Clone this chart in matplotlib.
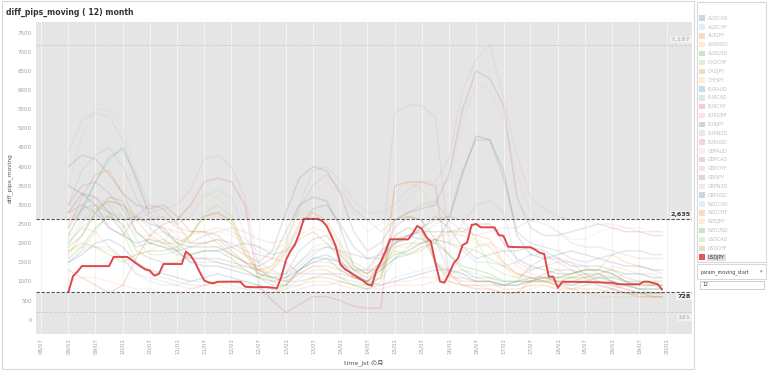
import numpy as np
import pandas as pd
import matplotlib
matplotlib.use("Agg")
import matplotlib.pyplot as plt
import matplotlib.dates as mdates
from matplotlib.patches import Rectangle
import matplotlib.transforms as mtransforms

plt.rcParams['font.family'] = ['DejaVu Sans', 'Noto Sans CJK JP']

# pares de divisas (orden de la leyenda)
pares = ["AUDCAD", "AUDCHF", "AUDJPY", "AUDNZD", "AUDUSD", "CADCHF", "CADJPY", "CHFJPY",
         "EURAUD", "EURCAD", "EURCHF", "EURGBP", "EURJPY", "EURNZD", "EURUSD", "GBPAUD",
         "GBPCAD", "GBPCHF", "GBPJPY", "GBPNZD", "GBPUSD", "NZDCAD", "NZDCHF", "NZDJPY",
         "NZDUSD", "USDCAD", "USDCHF", "USDJPY"]
colores = ["#4e79a7", "#a0cbe8", "#f28e2b", "#ffbe7d", "#59a14f", "#8cd17d", "#b6992d", "#f1ce63",
           "#499894", "#86bcb6", "#e15759", "#ff9d9a", "#79706e", "#bab0ac", "#d37295", "#fabfd2",
           "#b07aa1", "#d4a6c8", "#9d7660", "#d7b5a6", "#4e79a7", "#a0cbe8", "#f28e2b", "#ffbe7d",
           "#59a14f", "#8cd17d", "#b6992d", "#e15759"]

# fechas trimestrales (2009/01 .. 2019/10) + 2019/12
fechas_trim = list(pd.date_range("2009-01-01", "2019-10-01", freq="QS-JAN")) + [pd.Timestamp("2019-12-01")]

# valores aproximados (trimestrales) de los pares atenuados
AUDCAD = [1500,1700,2000,2100, 1900,1500,1300,1200, 1100,1000,1100,1200, 1100,1000,900,800, 900,1300,1600,1700, 1500,1200,1000,900, 1000,1100,1200,1300, 1300,1200,1000,1000, 900,1000,1100,1100, 1000,900,1000,1100, 1000,900,800,800, 800]
AUDCHF = [2200,2800,3600,4300, 4400,3800,3000,2600, 2500,2700,3200,3400, 3200,2200,1500,1300, 1100,1500,1900,2000, 1700,1300,1000,1200, 2500,2600,2400,1500, 1300,1200,1100,1000, 900,900,1000,1000, 900,1000,1100,1200, 1000,900,800,900, 900]
AUDJPY = [2400,3200,3800,3900, 3300,2600,2600,2700, 2400,2300,2300,2000, 1700,1500,1300,1400, 1900,2500,2800,2600, 2000,1400,1200,1400, 1800,1700,1800,2100, 2300,2400,2200,2100, 1500,1200,1100,1000, 1100,1200,1300,1300, 1700,1500,1400,1300, 1200]
AUDNZD = [1000,1100,1100,1000, 900,800,800,700, 700,800,900,900, 800,800,700,700, 900,1200,1400,1300, 1100,900,800,900, 1000,1000,1100,1100, 1000,900,900,800, 700,700,800,900, 800,700,700,600, 600,600,600,600, 600]
AUDUSD = [1900,2200,2800,3200, 3100,2300,2000,1900, 1800,1900,2000,2100, 1800,1500,1200,1100, 1200,1800,2100,2200, 1700,1300,1100,1400, 1700,1800,2000,2100, 1700,1400,1300,1200, 1000,1000,1000,1100, 1100,1200,1300,1300, 1200,1000,900,900, 900]
CADCHF = [1500,1800,2300,2800, 2700,2100,1700,1700, 1800,2200,2800,3000, 2700,1700,1200,1000, 900,900,1100,1200, 1100,1000,900,1100, 2200,2400,2200,1500, 1200,1300,1200,1100, 900,900,1000,1000, 900,900,1000,1000, 800,700,700,700, 700]
CADJPY = [2400,2900,3000,2800, 2300,1900,2000,2100, 1900,1600,1600,1500, 1400,1300,1100,1300, 1800,2100,2300,2000, 1600,1100,1000,1300, 1900,2000,2000,2100, 2000,1900,1800,1600, 1400,1200,1100,1000, 1000,1100,1100,1200, 1300,1100,1000,900, 900]
CHFJPY = [1800,1900,1900,1800, 1600,1700,1800,2000, 2600,3000,3300,3200, 2800,1800,1300,1400, 2000,2800,2800,2500, 1900,1300,1200,1700, 3300,3600,3400,2800, 2300,2200,2100,1900, 1400,1100,1000,1000, 1000,1000,1100,1100, 1200,1000,900,900, 900]
EURAUD = [2200,2900,3600,4200, 4500,3700,2700,2300, 2000,1700,1800,1800, 1900,2000,1900,1700, 1800,2400,2900,3000, 2500,1900,1600,1600, 2000,2100,2400,2700, 2400,1900,1600,1700, 1800,1800,1900,1800, 1600,1400,1400,1400, 1300,1200,1200,1100, 1100]
EURCAD = [2000,2500,2900,3100, 3000,2700,2400,2100, 1800,1500,1500,1500, 1400,1400,1300,1100, 1100,1400,1700,1900, 1800,1500,1300,1300, 1600,1800,2000,2100, 2000,1800,1500,1500, 1400,1500,1700,1700, 1500,1300,1200,1100, 1100,1000,900,900, 900]
EURCHF = [1300,1100,900,700, 900,1600,2200,2500, 2600,3000,3600,3700, 3600,3000,900,500, 191,400,600,600, 500,350,300,300, 3500,3600,3600,3500, 1200,900,800,800, 700,700,1000,1200, 1300,1300,1100,900, 800,700,700,600, 600]
EURGBP = [2000,2400,2300,1900, 1600,1200,1100,1000, 900,800,900,1000, 1000,900,800,800, 800,900,1000,1000, 900,800,800,800, 900,900,900,1000, 1300,1600,1900,2000, 1800,1400,1200,1100, 1000,800,700,700, 800,900,900,900, 900]
EURJPY = [2800,3300,3200,2800, 2600,2700,2500,2400, 2000,1900,1900,1900, 1700,1500,1400,1600, 2300,3000,3200,3100, 2400,1400,1200,1500, 2000,2200,2300,2300, 2300,2300,2500,2500, 2000,1600,1400,1300, 1200,1200,1300,1300, 1200,1000,1000,1000, 1000]
EURNZD = [3000,3900,4300,4500, 4000,3200,2600,2300, 2100,2000,2200,2300, 2400,2300,2100,2000, 2100,2900,3500,3800, 3400,2900,2600,2300, 2600,2800,3000,3100, 2600,2300,2200,2300, 2400,2400,2600,2500, 2300,2000,1900,1900, 1800,1700,1600,1600, 1600]
EURUSD = [2800,3000,2800,2400, 2200,2700,3000,2900, 2500,2000,2000,2100, 2000,1800,1700,1600, 1500,1200,1200,1200, 1200,1100,1000,1400, 2400,2700,2600,2100, 1200,1000,1000,1000, 900,1000,1400,1600, 1600,1500,1200,1000, 900,800,700,700, 700]
GBPAUD = [3500,4800,5500,5500, 5000,3800,2900,2500, 2200,2000,2200,2300, 2200,2000,1800,1600, 1700,2500,3300,3600, 3300,2800,2300,2500, 2800,3200,3500,3500, 3600,5200,6200,6000, 5200,3800,2800,2600, 2300,2100,2100,2300, 2400,2400,2400,2300, 2300]
GBPCAD = [3000,3500,3600,3300, 2900,2300,2000,1900, 1700,1600,1600,1600, 1500,1400,1300,1200, 1200,1500,1800,1900, 1800,1700,1600,1700, 2000,2200,2400,2600, 2700,3900,4700,4700, 3700,2300,2000,1900, 1800,1600,1500,1600, 1700,1800,1800,1700, 1700]
GBPCHF = [2500,3000,3200,3000, 2400,2600,2800,2900, 3000,3400,4200,4300, 4000,3200,1400,1000, 1000,1300,1500,1500, 1400,1200,1000,1400, 5400,5600,5600,5300, 2000,2500,3000,3100, 2800,1500,1300,1400, 1500,1500,1400,1200, 1100,1200,1200,1200, 1100]
GBPJPY = [4000,4300,4200,3800, 3300,3000,2900,3000, 2700,2300,2300,2200, 1900,1700,1500,1800, 2800,3700,4000,3900, 3300,2300,1800,2000, 2600,2800,2900,3000, 3800,5500,6500,6300, 5600,3200,2400,2200, 2200,2300,2400,2500, 2400,2300,2300,2200, 2200]
GBPNZD = [4400,5200,5400,5300, 4700,3600,2800,2400, 2300,2200,2300,2400, 2300,2100,1900,1800, 2000,3000,3900,4000, 3600,3100,2800,2800, 3000,3400,3600,3600, 4200,6000,6800,7187, 5800,4300,3200,2900, 2700,2600,2600,2500, 2500,2400,2300,2300, 2300]
GBPUSD = [3500,3300,3000,2400, 2200,2000,2100,2000, 1800,1500,1400,1400, 1300,1200,1100,1000, 1100,1300,1500,1600, 1500,1300,1300,1800, 2100,2200,2100,2000, 2600,3800,4800,4700, 3900,2200,1700,1600, 1700,1800,1700,1600, 1500,1400,1400,1300, 1300]
NZDCAD = [1500,1800,1900,1900, 1600,1200,1000,900, 900,1000,1000,1000, 900,800,800,700, 800,1100,1300,1300, 1100,900,800,900, 1100,1200,1300,1400, 1300,1100,1000,1000, 900,900,1100,1100, 1000,900,900,900, 800,700,700,700, 700]
NZDCHF = [1700,2200,2800,3100, 3000,2600,2200,2000, 2000,2200,2700,2800, 2500,1700,1300,1100, 1000,1200,1400,1400, 1300,1100,1000,1100, 2200,2400,2300,1500, 1100,1100,1000,1000, 800,800,900,900, 800,800,900,1000, 900,800,700,700, 700]
NZDJPY = [2100,2600,3000,3100, 2700,2200,2200,2300, 2100,2000,2000,1900, 1700,1500,1300,1300, 1700,2200,2400,2300, 1800,1300,1200,1500, 1900,1900,2000,2200, 2200,2200,2000,1900, 1500,1200,1000,1000, 1000,1100,1100,1100, 1400,1300,1200,1100, 1100]
NZDUSD = [1600,1900,2400,2700, 2500,1800,1600,1500, 1500,1700,1800,1800, 1600,1300,1100,900, 900,1300,1600,1600, 1300,1100,1000,1300, 1600,1700,1900,2000, 1700,1300,1100,1100, 1000,1000,1000,1100, 1100,1100,1200,1200, 1000,900,800,800, 800]
USDCAD = [2000,2400,2700,2700, 2300,1500,1200,1100, 1000,900,900,1000, 1000,1000,900,800, 700,800,900,900, 1000,900,800,1000, 1600,1900,2200,2500, 2700,2600,2100,1400, 1200,1100,1300,1400, 1300,1100,1000,1100, 1100,1000,800,700, 700]
USDCHF = [1800,2000,1900,1700, 1500,1700,1800,1800, 1900,2200,2700,2800, 2600,1900,1200,1100, 1000,1000,1100,1100, 1000,900,900,1100, 2600,2700,2600,1500, 1000,900,900,900, 900,900,1000,1000, 900,800,800,800, 700,700,600,600, 600]

otros = [AUDCAD, AUDCHF, AUDJPY, AUDNZD, AUDUSD, CADCHF, CADJPY, CHFJPY, EURAUD, EURCAD,
         EURCHF, EURGBP, EURJPY, EURNZD, EURUSD, GBPAUD, GBPCAD, GBPCHF, GBPJPY, GBPNZD,
         GBPUSD, NZDCAD, NZDCHF, NZDJPY, NZDUSD, USDCAD, USDCHF]

# USDJPY mensual 2009/01 .. 2019/12 (resaltado)
fechas_mes = pd.date_range("2009-01-01", periods=132, freq="MS")
USDJPY = [728, 1140, 1250, 1400, 1400, 1400, 1400, 1400, 1400, 1400, 1640, 1640,
          1640, 1640, 1560, 1470, 1390, 1317, 1281, 1150, 1200, 1455, 1455, 1455,
          1455, 1455, 1777, 1680, 1500, 1250, 1030, 970, 951, 990, 993, 993,
          993, 993, 993, 862, 850, 850, 850, 850, 850, 840, 820, 1124,
          1560, 1800, 1950, 2260, 2635, 2635, 2635, 2635, 2580, 2450, 2200, 1920,
          1450, 1320, 1254, 1170, 1100, 1020, 930, 888, 1300, 1520, 1800, 2100,
          2100, 2100, 2100, 2100, 2250, 2448, 2380, 2160, 2038, 1500, 1000, 967,
          1200, 1473, 1600, 1950, 2012, 2475, 2501, 2414, 2414, 2414, 2414, 2213,
          2187, 1908, 1900, 1895, 1895, 1892, 1892, 1830, 1750, 1720, 1124, 1124,
          836, 993, 990, 990, 990, 985, 985, 980, 980, 975, 970, 967,
          967, 930, 925, 925, 925, 925, 925, 993, 993, 960, 933, 794]

# lineas de referencia (USDJPY y todos los pares)
todos = np.concatenate([np.array(s) for s in otros] + [np.array(USDJPY)])
ref_max_total = todos.max()
ref_min_total = todos.min()
ref_max_usdjpy = max(USDJPY)
ref_min_usdjpy = min(USDJPY)

# ticks cada medio año
ticks = pd.date_range("2008-07-01", "2020-01-01", freq="6MS")

fig = plt.figure(figsize=(7.68, 3.71), dpi=100)
fig.patch.set_facecolor("white")
# marcos de los paneles
fig.patches.append(Rectangle((0.002, 0.006), 0.901, 0.99, transform=fig.transFigure,
                             facecolor="none", edgecolor="#d8d8d8", lw=0.8))
fig.patches.append(Rectangle((0.907, 0.294), 0.09, 0.70, transform=fig.transFigure,
                             facecolor="white", edgecolor="#d8d8d8", lw=0.8))

ax = fig.add_axes([36/768, 1-334/371, (692-36)/768, (334-22.3)/371])
ax.set_facecolor("#e5e5e5")
ax.axhspan(ref_min_usdjpy, ref_max_usdjpy, color="white", zorder=0)

for t in ticks:
    ax.axvline(t, color="#f3f3f3", lw=0.8, zorder=0.5)

for i, serie in enumerate(otros):
    ax.plot(fechas_trim, serie, color=colores[i], lw=1.0, alpha=0.2, zorder=2)
ax.plot(fechas_mes, USDJPY, color="#e0474c", lw=1.4, zorder=5)

# lineas de referencia
ax.axhline(ref_max_total, color="#cfcfcf", lw=0.7, ls=(0, (3, 1.5)), zorder=1)
ax.axhline(ref_min_total, color="#cfcfcf", lw=0.7, ls=(0, (3, 1.5)), zorder=1)
ax.axhline(ref_max_usdjpy, color="#555555", lw=0.8, ls=(0, (3, 1.5)), zorder=6)
ax.axhline(ref_min_usdjpy, color="#555555", lw=0.8, ls=(0, (3, 1.5)), zorder=6)

trans = mtransforms.blended_transform_factory(ax.transAxes, ax.transData)
caja = dict(boxstyle="square,pad=0.15", facecolor="#f2f2f2", edgecolor="none")
ax.text(0.998, ref_max_total + 60, f"{ref_max_total:,}", transform=trans, ha="right", va="bottom",
        fontsize=4.6, color="#c4c4c4", fontweight="bold", bbox=caja, zorder=7)
ax.text(0.998, ref_min_total - 60, f"{ref_min_total:,}", transform=trans, ha="right", va="top",
        fontsize=4.6, color="#c4c4c4", fontweight="bold", bbox=caja, zorder=7)
caja2 = dict(boxstyle="square,pad=0.15", facecolor="#f4f4f4", edgecolor="none")
ax.text(0.998, ref_max_usdjpy + 60, f"{ref_max_usdjpy:,}", transform=trans, ha="right", va="bottom",
        fontsize=4.6, color="#333333", fontweight="bold", bbox=caja2, zorder=7)
ax.text(0.998, ref_min_usdjpy - 60, f"{ref_min_usdjpy:,}", transform=trans, ha="right", va="top",
        fontsize=4.6, color="#333333", fontweight="bold", bbox=caja2, zorder=7)

ax.set_xlim(pd.Timestamp("2008-05-28"), pd.Timestamp("2020-06-20"))
ax.set_ylim(-374, 7771)
ax.set_yticks(np.arange(0, 7501, 500))
ax.set_xticks(ticks)
ax.xaxis.set_major_formatter(mdates.DateFormatter("%y/%m"))
ax.tick_params(axis="both", length=0, labelsize=4, labelcolor="#a0a0a0", pad=3)
ax.tick_params(axis="x", rotation=90)
for s in ax.spines.values():
    s.set_visible(False)
ax.set_ylabel("diff_pips_moving", fontsize=4.2, color="#555555", labelpad=4)
ax.set_xlabel("time_jst の月", fontsize=4.5, color="#555555", labelpad=4)

fig.text(6/768, 1-12/371, "diff_pips_moving ( 12) month", fontsize=5.6, fontweight="bold",
         color="#333333", va="center", ha="left")

# leyenda
for i, par in enumerate(pares):
    yp = 1 - (18.3 + i*8.85)/371
    resaltado = par == "USDJPY"
    fig.patches.append(Rectangle((699/768, yp - 2.6/371), 5.5/768, 5.5/371, transform=fig.transFigure,
                                 facecolor=colores[i], alpha=1.0 if resaltado else 0.3, edgecolor="none"))
    fig.text(708/768, yp, par, fontsize=3.4, va="center", ha="left",
             color="#333333" if resaltado else "#c0c0c0",
             bbox=dict(boxstyle="square,pad=0.2", facecolor="#dedede", edgecolor="none") if resaltado else None)

# parametro
fig.patches.append(Rectangle((697/768, 1-279/371), 69/768, 15/371, transform=fig.transFigure,
                             facecolor="white", edgecolor="#d0d0d0", lw=0.6))
fig.text(701/768, 1-272/371, "param_moving_start", fontsize=3.4, va="center", ha="left", color="#444444")
fig.text(761/768, 1-272/371, "▾", fontsize=3.6, va="center", ha="center", color="#888888")
fig.patches.append(Rectangle((700/768, 1-289/371), 64/768, 8/371, transform=fig.transFigure,
                             facecolor="white", edgecolor="#c8c8c8", lw=0.6))
fig.text(702/768, 1-285/371, "12", fontsize=3.4, va="center", ha="left", color="#444444")

fig.savefig("out.png", dpi=100)
